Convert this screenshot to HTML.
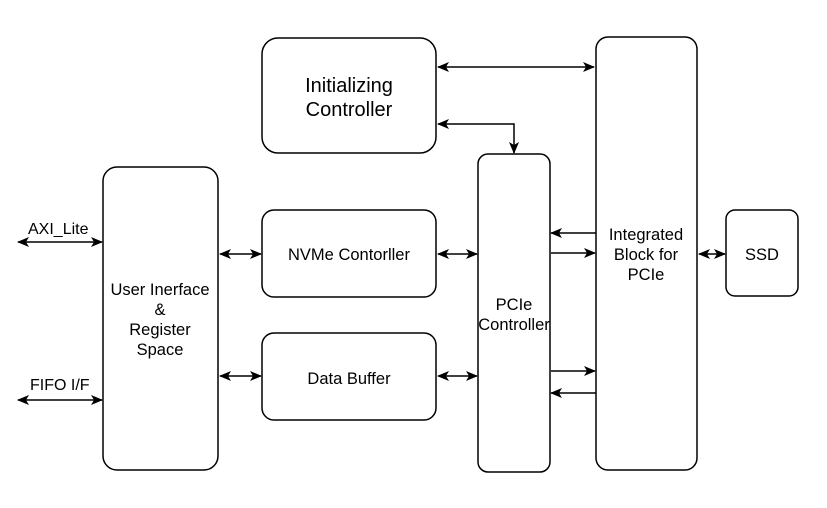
<!DOCTYPE html>
<html><head><meta charset="utf-8"><style>
html,body{margin:0;padding:0;background:#fff;}
svg{display:block;}
text{font-family:"Liberation Sans",Arial,sans-serif;fill:#000;}
</style></head><body>
<svg width="827" height="508" viewBox="0 0 827 508" xmlns="http://www.w3.org/2000/svg">
<defs>
<marker id="a" viewBox="0 0 12 10" refX="11" refY="5" markerWidth="12" markerHeight="10" orient="auto-start-reverse" markerUnits="userSpaceOnUse">
<path d="M0,0 L12,5 L0,10 L3,5 Z" fill="#000"/>
</marker>
</defs>
<g fill="#fff" stroke="#000" stroke-width="1.5">
<rect x="262" y="38" width="174" height="115" rx="16"/>
<rect x="103" y="167" width="115" height="303" rx="14"/>
<rect x="262" y="210" width="174" height="87" rx="12"/>
<rect x="262" y="333" width="174" height="87" rx="12"/>
<rect x="478" y="154" width="72" height="318" rx="10"/>
<rect x="596" y="37" width="101" height="433" rx="12"/>
<rect x="726" y="210" width="72" height="86" rx="9"/>
</g>
<g stroke="#000" stroke-width="1.5" fill="none">
<line x1="18" y1="242" x2="102" y2="242" marker-start="url(#a)" marker-end="url(#a)"/>
<line x1="18" y1="400" x2="102" y2="400" marker-start="url(#a)" marker-end="url(#a)"/>
<line x1="220" y1="254" x2="261" y2="254" marker-start="url(#a)" marker-end="url(#a)"/>
<line x1="220" y1="376" x2="261" y2="376" marker-start="url(#a)" marker-end="url(#a)"/>
<line x1="438" y1="254" x2="477" y2="254" marker-start="url(#a)" marker-end="url(#a)"/>
<line x1="438" y1="376" x2="477" y2="376" marker-start="url(#a)" marker-end="url(#a)"/>
<line x1="438" y1="67" x2="594" y2="67" marker-start="url(#a)" marker-end="url(#a)"/>
<polyline points="438,124 514,124 514,153" marker-start="url(#a)" marker-end="url(#a)"/>
<line x1="596" y1="233" x2="551" y2="233" marker-end="url(#a)"/>
<line x1="551" y1="253" x2="595" y2="253" marker-end="url(#a)"/>
<line x1="551" y1="371" x2="595" y2="371" marker-end="url(#a)"/>
<line x1="596" y1="393" x2="551" y2="393" marker-end="url(#a)"/>
<line x1="699" y1="254" x2="725" y2="254" marker-start="url(#a)" marker-end="url(#a)"/>
</g>
<g font-size="16" text-anchor="start">
<text x="28" y="234">AXI_Lite</text>
<text x="30" y="390">FIFO I/F</text>
</g>
<g font-size="20" text-anchor="middle">
<text x="349" y="92">Initializing</text>
<text x="349" y="116">Controller</text>
</g>
<g font-size="16.5" text-anchor="middle">
<text x="160" y="295">User Inerface</text>
<text x="160" y="315">&amp;</text>
<text x="160" y="335">Register</text>
<text x="160" y="355">Space</text>
<text x="349" y="260">NVMe Contorller</text>
<text x="349" y="384">Data Buffer</text>
<text x="514" y="310">PCIe</text>
<text x="514" y="330">Controller</text>
<text x="646" y="240">Integrated</text>
<text x="646" y="260">Block for</text>
<text x="646" y="280">PCIe</text>
<text x="762" y="260">SSD</text>
</g>
</svg>
</body></html>
